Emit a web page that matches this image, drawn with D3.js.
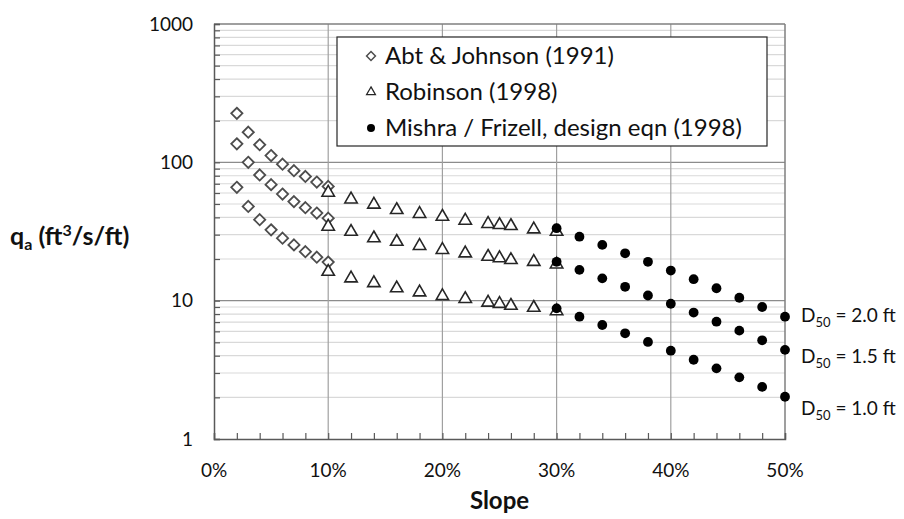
<!DOCTYPE html>
<html>
<head>
<meta charset="utf-8">
<script src="https://cdn.jsdelivr.net/npm/d3@7"></script>
<style>
  body { margin: 0; background: #fff; }
  text { font-family: Lato, "Open Sans", sans-serif; fill: #111; }
</style>
</head>
<body>
<div id="chart"></div>
<script>
"use strict";

// slopes in %, unit discharge q_a in ft3/s/ft
const abtSlopes = [2, 3, 4, 5, 6, 7, 8, 9, 10];
const abtD20 = [226, 165, 134, 112, 97, 87, 79, 72, 67];
const abtD15 = [136, 100, 81, 69, 59, 52, 47, 43, 39.5];
const abtD10 = [66, 48, 38.5, 32.5, 28.3, 25.3, 22.6, 20.6, 19];

const robSlopes = [10, 12, 14, 16, 18, 20, 22, 24, 25, 26, 28, 30];
const robD20 = [60.4, 54, 49.5, 45.3, 42.4, 40.5, 37.9, 35.9, 35.3, 34.7, 32.8, 31.5];
const robD15 = [34.3, 31.5, 28.3, 26.7, 24.9, 23.3, 22.0, 20.8, 20.3, 19.7, 19.1, 18.3];
const robD10 = [16.2, 14.5, 13.4, 12.3, 11.5, 10.8, 10.3, 9.7, 9.5, 9.2, 8.9, 8.4];

const misSlopes = [30, 32, 34, 36, 38, 40, 42, 44, 46, 48, 50];
const misD20 = [33.4, 29.0, 25.3, 22.0, 19.1, 16.5, 14.3, 12.3, 10.5, 9.0, 7.66];
const misD15 = [19.1, 16.7, 14.5, 12.6, 10.9, 9.5, 8.2, 7.05, 6.07, 5.17, 4.41];
const misD10 = [8.8, 7.66, 6.67, 5.81, 5.03, 4.35, 3.74, 3.24, 2.79, 2.38, 2.02];

const xTicks = [0, 10, 20, 30, 40, 50];
const yTicks = [1, 10, 100, 1000];
const legendNames = ["Abt & Johnson (1991)", "Robinson (1998)", "Mishra / Frizell, design eqn (1998)"];
const d50Names = ["2.0", "1.5", "1.0"];

function init() {
    draw();
}
window.onload = init;

function draw() {
    const margin = {top: 24, right: 119, bottom: 80, left: 214},
        width = 904 - margin.left - margin.right,
        height = 519 - margin.top - margin.bottom;

    const root = d3.select("#chart").append("svg")
        .attr("width", 904)
        .attr("height", 519);
    const svg = root.append("g")
        .attr("transform", `translate(${margin.left}, ${margin.top})`);

    const x = d3.scaleLinear().domain([0, 50]).range([0, width]);
    const y = d3.scaleLog().domain([1, 1000]).range([height, 0]);

    // minor horizontal grid
    const minorY = [];
    [1, 10, 100].forEach(d => { for (let k = 2; k <= 9; k++) minorY.push(d * k); });
    svg.append("g").selectAll("line").data(minorY).enter().append("line")
        .attr("x1", 0).attr("x2", width)
        .attr("y1", d => y(d)).attr("y2", d => y(d))
        .attr("stroke", "#d9d9d9").attr("stroke-width", 1.2);

    // major grid
    svg.append("g").selectAll("line").data([10, 100]).enter().append("line")
        .attr("x1", 0).attr("x2", width)
        .attr("y1", d => y(d)).attr("y2", d => y(d))
        .attr("stroke", "#8c8c8c").attr("stroke-width", 1.2);
    svg.append("g").selectAll("line").data([10, 20, 30, 40]).enter().append("line")
        .attr("y1", 0).attr("y2", height)
        .attr("x1", d => x(d)).attr("x2", d => x(d))
        .attr("stroke", "#a0a0a0").attr("stroke-width", 1.2);

    // frame top / right
    svg.append("line").attr("x1", 0).attr("x2", width).attr("y1", 0).attr("y2", 0)
        .attr("stroke", "#7f7f7f").attr("stroke-width", 1.5);
    svg.append("line").attr("x1", width).attr("x2", width).attr("y1", 0).attr("y2", height)
        .attr("stroke", "#7f7f7f").attr("stroke-width", 1.5);

    // axes with inside ticks
    const xAxis = svg.append("g")
        .attr("transform", `translate(0, ${height})`)
        .call(d3.axisTop(x).tickValues(d3.range(0, 51, 2)).tickSize(6).tickFormat(""));
    xAxis.select(".domain").attr("stroke", "#595959").attr("stroke-width", 1.5);
    xAxis.selectAll(".tick line").attr("stroke", "#595959").attr("stroke-width", 1.2);

    const yAxis = svg.append("g")
        .call(d3.axisRight(y).tickValues(minorY.concat(yTicks)).tickSize(6).tickFormat(""));
    yAxis.select(".domain").attr("stroke", "#595959").attr("stroke-width", 1.5);
    yAxis.selectAll(".tick line").attr("stroke", "#595959").attr("stroke-width", 1.2);

    // tick labels
    svg.append("g").selectAll("text").data(xTicks).enter().append("text")
        .attr("x", d => x(d)).attr("y", height + 38)
        .attr("text-anchor", "middle")
        .style("font-size", "19px")
        .text(d => d + "%");
    svg.append("g").selectAll("text").data(yTicks).enter().append("text")
        .attr("x", -21).attr("y", d => y(d)).attr("dy", "0.35em")
        .attr("text-anchor", "end")
        .style("font-size", "19px")
        .text(d => d);

    // axis titles
    svg.append("text")
        .attr("x", width / 2).attr("y", height + 70)
        .attr("text-anchor", "middle")
        .style("font-size", "24px").style("font-weight", "bold")
        .text("Slope");

    const yt = root.append("text")
        .attr("x", 10).attr("y", 245)
        .style("font-size", "25px").style("font-weight", "bold");
    yt.append("tspan").text("q");
    yt.append("tspan").attr("dy", 5).style("font-size", "16px").text("a");
    yt.append("tspan").attr("dy", -5).text(" (ft");
    yt.append("tspan").attr("dy", -9).style("font-size", "16px").text("3");
    yt.append("tspan").attr("dy", 9).text("/s/ft)");

    const diamond = d3.symbol().type(d3.symbolDiamond2);
    const triangle = d3.symbol().type(d3.symbolTriangle2);

    function plotSeries(xs, ys, kind) {
        const pts = xs.map((s, i) => ({s: s, q: ys[i]}));
        const g = svg.append("g");
        const sel = g.selectAll("path").data(pts).enter();
        if (kind === "abt") {
            sel.append("path")
                .attr("d", diamond.size(80)())
                .attr("transform", d => `translate(${x(d.s)}, ${y(d.q)})`)
                .attr("fill", "#fff").attr("stroke", "#4d4d4d").attr("stroke-width", 1.8);
        } else if (kind === "rob") {
            sel.append("path")
                .attr("d", triangle.size(110)())
                .attr("transform", d => `translate(${x(d.s)}, ${y(d.q)})`)
                .attr("fill", "#fff").attr("stroke", "#262626").attr("stroke-width", 1.6);
        } else {
            sel.append("circle")
                .attr("cx", d => x(d.s)).attr("cy", d => y(d.q)).attr("r", 4.9)
                .attr("fill", "#000");
        }
    }

    [abtD20, abtD15, abtD10].forEach(ys => plotSeries(abtSlopes, ys, "abt"));
    [robD20, robD15, robD10].forEach(ys => plotSeries(robSlopes, ys, "rob"));
    [misD20, misD15, misD10].forEach(ys => plotSeries(misSlopes, ys, "mis"));

    // D50 labels at the end of the Mishra curves
    const labelShift = [5, 13, 18];
    [misD20, misD15, misD10].forEach((ys, i) => {
        const t = svg.append("text")
            .attr("x", width + 16)
            .attr("y", y(ys[ys.length - 1]) + labelShift[i])
            .style("font-size", "19px");
        t.append("tspan").text("D");
        t.append("tspan").attr("dy", 5).style("font-size", "13px").text("50");
        t.append("tspan").attr("dy", -5).text(" = " + d50Names[i] + " ft");
    });

    // legend
    const lg = root.append("g").attr("transform", "translate(337, 37)");
    lg.append("rect").attr("width", 430).attr("height", 109)
        .attr("fill", "#fff").attr("stroke", "#262626").attr("stroke-width", 1.2);
    legendNames.forEach((name, i) => {
        const cy = 19 + i * 36;
        if (i === 0) {
            lg.append("path").attr("d", diamond.size(50)())
                .attr("transform", `translate(34, ${cy})`)
                .attr("fill", "#fff").attr("stroke", "#4d4d4d").attr("stroke-width", 1.5);
        } else if (i === 1) {
            lg.append("path").attr("d", triangle.size(55)())
                .attr("transform", `translate(34, ${cy})`)
                .attr("fill", "#fff").attr("stroke", "#262626").attr("stroke-width", 1.3);
        } else {
            lg.append("circle").attr("cx", 34).attr("cy", cy).attr("r", 4).attr("fill", "#000");
        }
        lg.append("text").attr("x", 48).attr("y", cy).attr("dy", "0.35em")
            .style("font-size", "24px")
            .text(name);
    });
}
</script>
</body>
</html>
